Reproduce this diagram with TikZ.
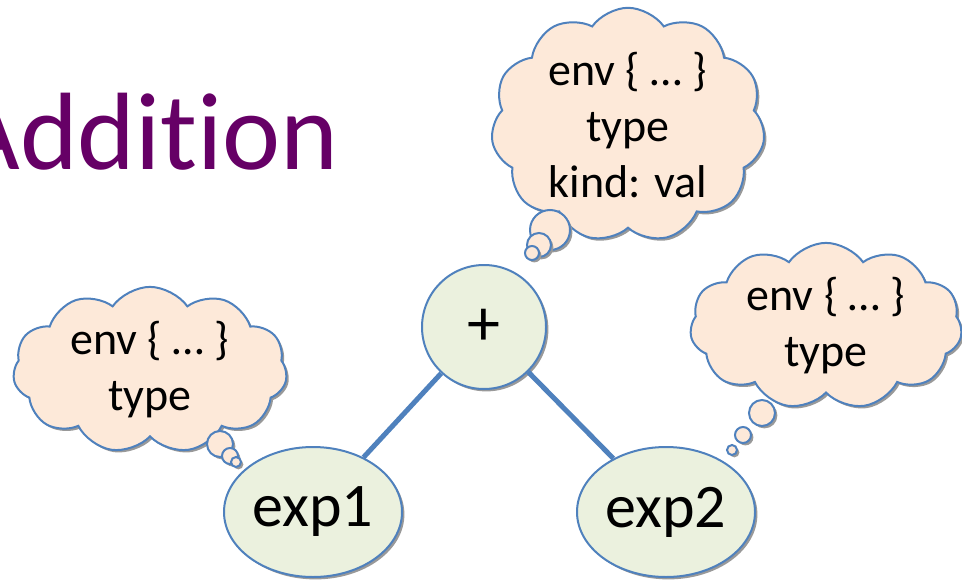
\documentclass[tikz,border=0pt]{standalone}
\usepackage{fontspec}
\setmainfont[RawFeature={-liga;-clig;-calt;-dlig}]{Carlito}
\usetikzlibrary{shapes.symbols,shapes.geometric,shadows}

\definecolor{edgeblue}{HTML}{4F81BD}
\definecolor{nodegreen}{HTML}{EBF1DE}
\definecolor{cloudpeach}{HTML}{FDE9D9}
\definecolor{titlepurple}{HTML}{660066}

\tikzset{
  shade/.style={drop shadow={shadow xshift=1.2pt,shadow yshift=-1.2pt,fill=black!40,opacity=1}},
  treenode/.style={ellipse,draw=edgeblue,line width=1pt,fill=nodegreen,inner sep=0pt,shade},
  thought/.style={cloud,cloud puffs=11,cloud puff arc=110,draw=edgeblue,line width=1pt,
    fill=cloudpeach,inner sep=0pt,align=center,font=\fontsize{23}{28}\selectfont,shade},
  bubble/.style={draw=edgeblue,line width=1pt,fill=cloudpeach,shade},
  branch/.style={edgeblue,line width=2.5pt}
}

\begin{document}
\begin{tikzpicture}[x=0.5pt,y=-0.5pt]
				\useasboundingbox (0,0) rectangle (962,583);
				\clip (0,0) rectangle (962,583);
				
				\node [anchor=base west,text=titlepurple,inner sep=0pt,font=\fontsize{55}{60}\selectfont] (title) at (-44,169) {Addit\kern0pt ion};
				
				% the tree
				\node [treenode,circle,minimum size=62pt,font=\fontsize{33}{36}\selectfont] (plus) at (484,327) {+};
				\node [treenode,minimum width=89pt,minimum height=65pt,font=\fontsize{31}{36}\selectfont] (exp1) at (313,512) {exp1};
				\node [treenode,minimum width=89pt,minimum height=65pt,font=\fontsize{31}{36}\selectfont] (exp2) at (666,512) {exp2};
				
				\draw [branch] (plus) -- (exp1);
				\draw [branch] (plus) -- (exp2);
				
				% thoughts
				\node [thought,aspect=1.22,minimum width=137pt,minimum height=112pt] (envplus) at (628,125) {env \{ … \}\\type\\kind: val};
				\filldraw [bubble] (550,230) circle (10pt);
				\filldraw [bubble] (539,245) circle (6pt);
				\filldraw [bubble] (532,253) circle (3.5pt);
				
				\node [thought,aspect=1.75,minimum width=137pt,minimum height=78pt] (envone) at (150,370) {env \{ … \}\\type};
				\filldraw [bubble] (220,444) circle (6.5pt);
				\filldraw [bubble] (230,456) circle (4pt);
				\filldraw [bubble] (236,462) circle (2.5pt);
				
				\node [thought,aspect=1.75,minimum width=136pt,minimum height=77pt] (envtwo) at (826,326) {env \{ … \}\\type};
				\filldraw [bubble] (762,413) circle (6.5pt);
				\filldraw [bubble] (743,435) circle (4pt);
				\filldraw [bubble] (732,450) circle (2.5pt);
			\end{tikzpicture}
\end{document}
